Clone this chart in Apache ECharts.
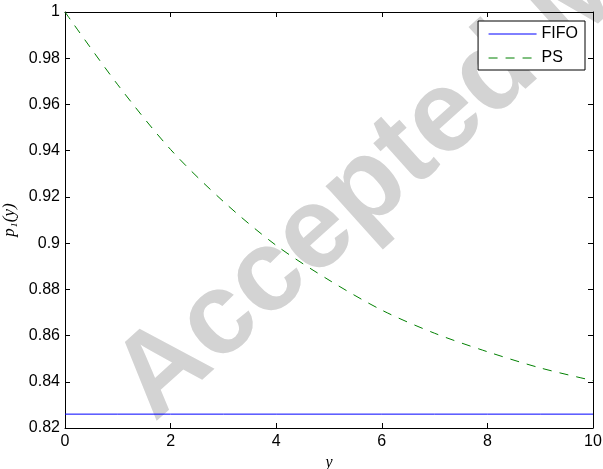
<!DOCTYPE html>
<html>
<head>
<meta charset="utf-8">
<script src="https://cdn.jsdelivr.net/npm/echarts@6/dist/echarts.min.js"></script>
<style>
  html, body { margin: 0; padding: 0; background: #fff; }
  #chart { width: 603px; height: 469px; }
</style>
</head>
<body>
<div id="chart"></div>
<script>
// values
const yPoints = [0, 1, 2, 3, 4, 5, 6, 7, 8, 9, 10];
const fifoValues = [0.826, 0.826, 0.826, 0.826, 0.826, 0.826, 0.826, 0.826, 0.826, 0.826, 0.826];
const psValues = [1.0, 0.9685, 0.9405, 0.918, 0.899, 0.884, 0.871, 0.861, 0.853, 0.846, 0.8405];

const font = 'Liberation Sans, Arial, Helvetica, sans-serif';
const chart = echarts.init(document.getElementById('chart'), null, { renderer: 'canvas' });

const pairs = vals => yPoints.map((x, i) => [x, vals[i]]);

const boxAxis = {
    axisLine: { show: true, onZero: false, lineStyle: { color: '#000', width: 1 } },
    axisTick: { show: true, inside: true, length: 5, lineStyle: { color: '#000' } },
    splitLine: { show: false }
};

chart.setOption({
    backgroundColor: '#fff',
    animation: false,
    grid: { left: 65, top: 12, right: 10, bottom: 41, outerBoundsMode: 'none', containLabel: false },
    graphic: [{
        type: 'text',
        x: 172, y: 442,
        rotation: 42 * Math.PI / 180,
        z: 0,
        style: {
            text: 'Accepted Manuscript',
            font: 'bold 116px "Liberation Sans", Arial, sans-serif',
            fill: '#d3d3d3',
            textAlign: 'left',
            textVerticalAlign: 'bottom'
        }
    }],
    legend: {
        orient: 'vertical',
        right: 18,
        top: 21,
        padding: [5, 7, 4, 10],
        itemWidth: 48,
        itemHeight: 14,
        itemGap: 8,
        backgroundColor: '#fff',
        borderColor: '#000',
        borderWidth: 1,
        borderRadius: 0,
        itemStyle: { opacity: 0 },
        lineStyle: { width: 1 },
        textStyle: { fontFamily: font, fontSize: 16, color: '#000' },
        data: ['FIFO', 'PS']
    },
    xAxis: [{
        type: 'value',
        min: 0, max: 10, interval: 2,
        name: 'y',
        nameLocation: 'middle',
        nameGap: 24,
        nameTextStyle: { fontFamily: 'Liberation Serif, DejaVu Serif, serif', fontStyle: 'italic', fontSize: 16, color: '#000' },
        axisLabel: { margin: 6, fontFamily: font, fontSize: 16, color: '#000' },
        ...boxAxis
    }, {
        type: 'value',
        position: 'top',
        min: 0, max: 10, interval: 2,
        axisLabel: { show: false },
        ...boxAxis
    }],
    yAxis: [{
        type: 'value',
        min: 0.82, max: 1, interval: 0.02,
        name: 'p\u2081(y)',
        nameLocation: 'middle',
        nameGap: 39,
        nameTextStyle: { fontFamily: 'Liberation Serif, DejaVu Serif, serif', fontStyle: 'italic', fontSize: 17, color: '#000' },
        axisLabel: {
            margin: 5, fontFamily: font, fontSize: 16, color: '#000',
            formatter: v => String(+v.toFixed(2))
        },
        ...boxAxis
    }, {
        type: 'value',
        position: 'right',
        min: 0.82, max: 1, interval: 0.02,
        axisLabel: { show: false },
        ...boxAxis
    }],
    series: [{
        name: 'FIFO',
        type: 'line',
        z: 5,
        showSymbol: false,
        symbol: 'none',
        color: '#0000ff',
        lineStyle: { color: '#0000ff', width: 1 },
        data: pairs(fifoValues)
    }, {
        name: 'PS',
        type: 'line',
        z: 5,
        showSymbol: false,
        symbol: 'none',
        smooth: 0.3,
        color: '#008000',
        lineStyle: { color: '#008000', width: 1, type: [9, 8] },
        data: pairs(psValues)
    }]
});
</script>
</body>
</html>
